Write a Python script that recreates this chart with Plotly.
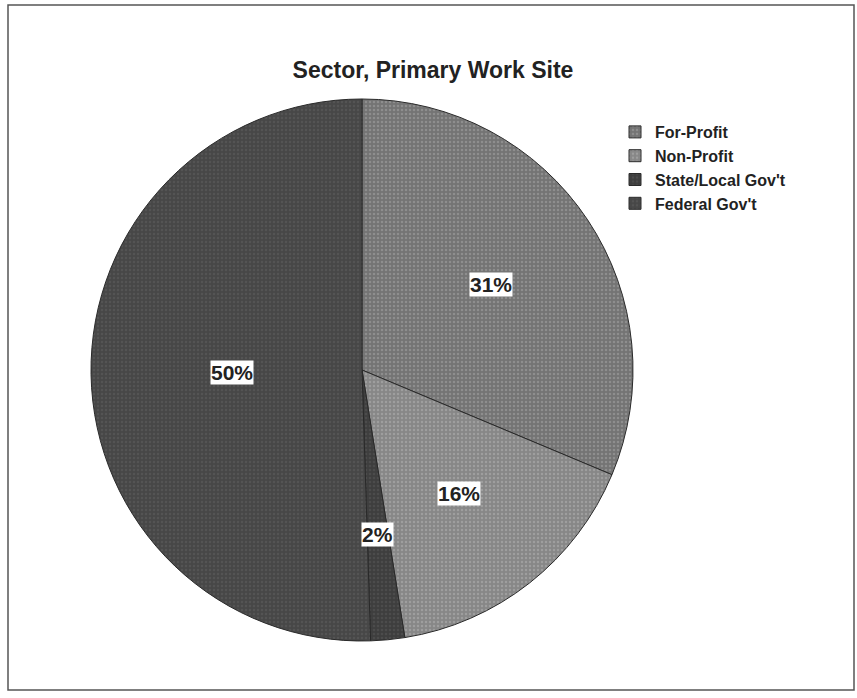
import math
import plotly.graph_objects as go

categories = ["For-Profit", "Non-Profit", "State/Local Gov't", "Federal Gov't"]
values = [31, 16, 2, 50]
pct_labels = ["31%", "16%", "2%", "50%"]

colors = ["#747474", "#878787", "#3e3e3e", "#474747"]
speckle = ["#8e8e8e", "#9e9e9e", "#4c4c4c", "#545454"]
label_r = [0.57, 0.58, 0.61, 0.48]

W, H = 857, 698
cx, cy, R = 362, 370, 271  # pixel centre / radius of the pie
dom_x = [(cx - R) / W, (cx + R) / W]
dom_y = [1 - (cy + R) / H, 1 - (cy - R) / H]

fig = go.Figure()
fig.add_trace(go.Pie(
    labels=categories,
    values=values,
    sort=False,
    direction="clockwise",
    rotation=0,
    textinfo="none",
    hoverinfo="label+percent",
    marker=dict(
        colors=colors,
        line=dict(color="#2a2a2a", width=1),
        pattern=dict(shape=".", fgcolor=speckle, bgcolor=colors, size=4,
                     solidity=0.3, fillmode="replace"),
    ),
    domain=dict(x=dom_x, y=dom_y),
))

# percentage labels with white boxes, placed at each slice's mid-angle
total = sum(values)
cum = 0
for v, lab, rf in zip(values, pct_labels, label_r):
    mid = (cum + v / 2) / total * 2 * math.pi
    cum += v
    px = cx + rf * R * math.sin(mid)
    py = cy - rf * R * math.cos(mid)
    fig.add_annotation(
        x=px / W, y=1 - py / H, xref="paper", yref="paper",
        xanchor="center", yanchor="middle",
        text="<b>" + lab + "</b>", showarrow=False,
        font=dict(family="Liberation Sans, Arial", size=21, color="#222222"),
        bgcolor="white", borderpad=0,
    )

fig.add_shape(type="rect", xref="paper", yref="paper",
              x0=8 / W, x1=854 / W, y0=1 - 690 / H, y1=1 - 5 / H,
              line=dict(color="#555555", width=1.5))

fig.update_layout(
    width=W, height=H,
    margin=dict(l=0, r=0, t=0, b=0),
    paper_bgcolor="white",
    plot_bgcolor="white",
    title=dict(text="<b>Sector, Primary Work Site</b>", x=433 / W, xanchor="center",
               y=1 - 70 / H, yanchor="middle",
               font=dict(family="Liberation Sans, Arial", size=23, color="#222222")),
    legend=dict(x=615 / W, y=1 - 115 / H, xanchor="left", yanchor="top",
                font=dict(family="Liberation Sans, Arial", size=16, color="#222222", weight="bold"),
                itemwidth=30, tracegroupgap=0, bgcolor="rgba(0,0,0,0)"),
    showlegend=True,
)

fig.write_html("out.html")
